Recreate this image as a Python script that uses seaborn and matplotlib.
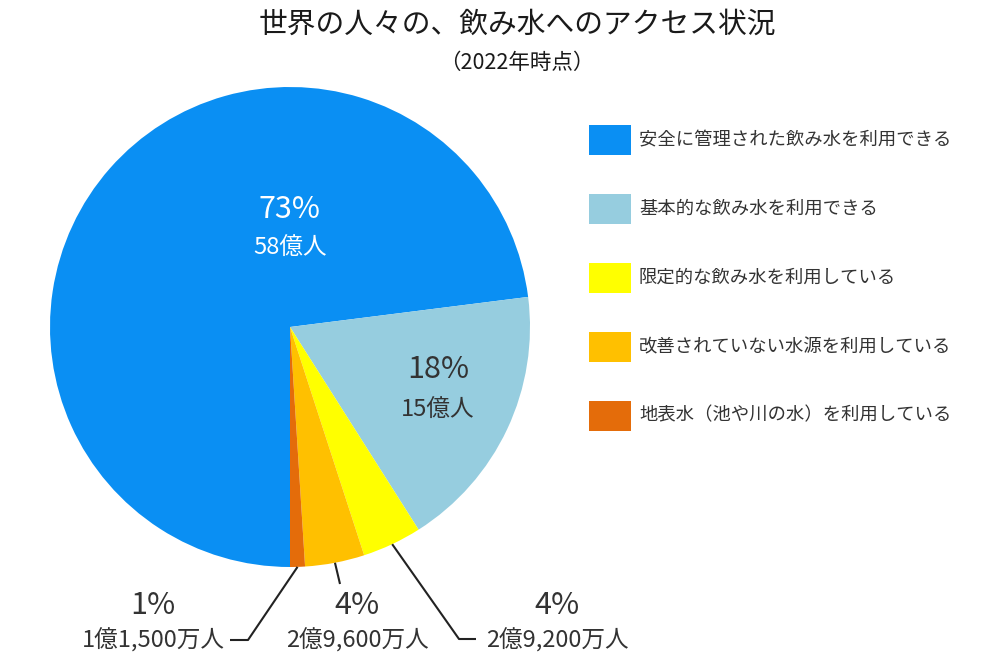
import matplotlib
matplotlib.use("Agg")
import matplotlib.pyplot as plt
import seaborn as sns
import numpy as np
from matplotlib.patches import Rectangle

categories = ["安全に管理された飲み水を利用できる", "基本的な飲み水を利用できる",
              "限定的な飲み水を利用している", "改善されていない水源を利用している",
              "地表水（池や川の水）を利用している"]
shares = [73, 18, 4, 4, 1]
pct_labels = ["73%", "18%", "4%", "4%", "1%"]
people_labels = ["58億人", "15億人", "2億9,200万人", "2億9,600万人", "1億1,500万人"]
colors = ["#0a8ff3", "#96cddf", "#ffff00", "#ffc000", "#e46c0a"]

sns.set_theme(style="white")
plt.rcParams['font.family'] = ['Noto Sans CJK JP', 'DejaVu Sans']

W, H = 1000, 670
fig = plt.figure(figsize=(10, 6.7), dpi=100)
ax = fig.add_axes([0, 0, 1, 1])

def P(x, y):
    return (x, H - y)

cx, cy = P(290, 327)
R = 240
wedges, _ = ax.pie(shares, colors=colors, startangle=-90, counterclock=False,
                   center=(cx, cy), radius=R, wedgeprops=dict(linewidth=0))
ax.set_xlim(0, W)
ax.set_ylim(0, H)
ax.set_aspect("equal")
ax.axis("off")

dark = "#333333"

# title
fig.text(0.517, 1 - 25 / H, "世界の人々の、飲み水へのアクセス状況", ha="center", va="center",
         fontsize=20.7, color="#1a1a1a", fontweight="normal")
fig.text(0.517, 1 - 63 / H, "（2022年時点）", ha="center", va="center",
         fontsize=15.5, color="#1a1a1a")

# inner labels
ax.text(*P(290, 210), pct_labels[0], ha="center", va="center", fontsize=22, color="white")
ax.text(*P(290, 248), people_labels[0], ha="center", va="center", fontsize=17, color="white")
ax.text(*P(438, 370), pct_labels[1], ha="center", va="center", fontsize=22, color=dark)
ax.text(*P(438, 410), people_labels[1], ha="center", va="center", fontsize=17, color=dark)

# outer labels for small slices
def edge_point(w, r=1.0):
    t = np.deg2rad((w.theta1 + w.theta2) / 2)
    return cx + R * r * np.cos(t), cy + R * r * np.sin(t)

outer = [
    (2, 557, [P(459, 639), P(476, 639)]),
    (3, 357, [P(340, 584)]),
    (4, 153, [P(248, 640), P(230, 640)]),
]
for idx, lx, path in outer:
    ax.text(*P(lx, 605), pct_labels[idx], ha="center", va="center", fontsize=22, color=dark)
    ax.text(*P(lx, 640), people_labels[idx], ha="center", va="center", fontsize=17, color=dark)
    x0, y0 = edge_point(wedges[idx])
    xs = [x0] + [p[0] for p in path]
    ys = [y0] + [p[1] for p in path]
    ax.plot(xs, ys, color="#222222", lw=1.5, solid_capstyle="butt")

# legend
leg_y = [140, 209, 278, 347, 415.5]
for c, lab, y in zip(colors, categories, leg_y):
    ax.add_patch(Rectangle(P(589, y + 15), 42, 30, facecolor=c, edgecolor="none"))
    ax.text(*P(639, y), lab, ha="left", va="center", fontsize=13.2, color=dark)

fig.savefig("out.png", dpi=100, facecolor="white")
